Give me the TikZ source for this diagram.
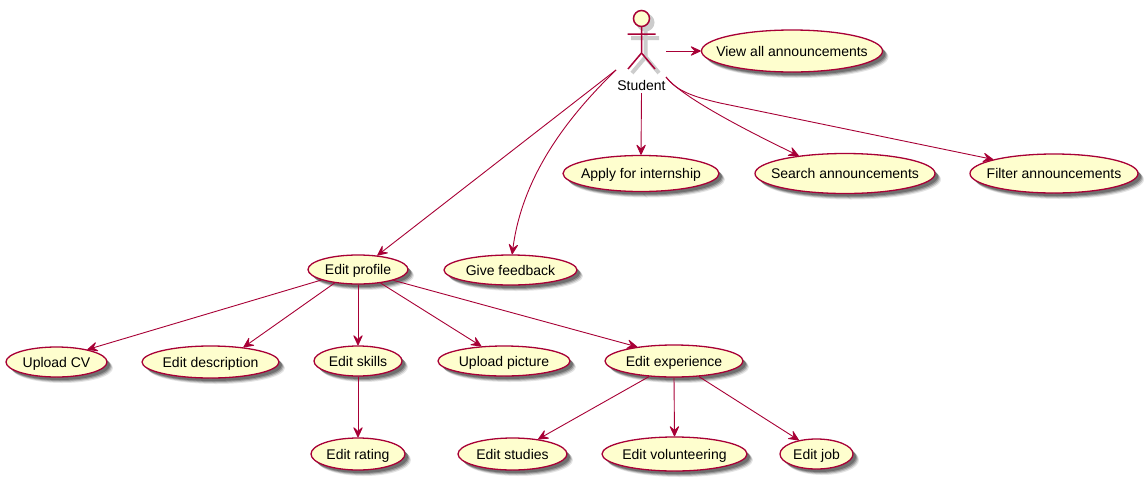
\documentclass[tikz,border=0pt]{standalone}
\usepackage{fontspec}
\setmainfont{Liberation Sans}
\usetikzlibrary{arrows.meta,shapes.geometric,shadows}
\definecolor{umlred}{HTML}{A80036}
\definecolor{umlfill}{HTML}{FEFECE}
\newcommand\uctext[1]{\smash{\makebox[0pt]{\raisebox{-5.4pt}{#1}}}}
\tikzset{
  uc/.style={ellipse,draw=umlred,fill=umlfill,line width=1.3pt,inner sep=0pt,font=\fontsize{14}{16}\selectfont,
    drop shadow={shadow xshift=6pt,shadow yshift=-6pt,fill=black,opacity=0.10},
    drop shadow={shadow xshift=5pt,shadow yshift=-5pt,fill=black,opacity=0.16},
    drop shadow={shadow xshift=4pt,shadow yshift=-4pt,fill=black,opacity=0.22},
    drop shadow={shadow xshift=3pt,shadow yshift=-3pt,fill=black,opacity=0.25}},
  rel/.style={draw=umlred,line width=0.9pt,-{Stealth[length=12pt,width=11pt,inset=5pt,round]}},
  actorline/.style={draw=umlred,line width=1.5pt},
  actorshadow/.style={draw=black!20,line width=4pt},
  txt/.style={inner sep=0pt,font=\fontsize{14}{16}\selectfont}
}
\begin{document}
\begin{tikzpicture}[x=1pt,y=-1pt]
\useasboundingbox[fill=white] (0,0) rectangle (1148,480);
% actor
\fill[black!20] (645.5,22.5) circle (9);
\draw[actorshadow] (645.5,30) -- (645.5,57) (631,38) -- (659,38) (645.5,57) -- (632,73) (645.5,57) -- (659,73);
\draw[actorline,fill=umlfill] (641.5,18.5) circle (8);
\draw[actorline] (641.5,26.5) -- (641.5,53) (627.5,34) -- (655.5,34) (641.5,53) -- (628,69) (641.5,53) -- (655,69);
\node[minimum width=49pt,minimum height=84pt,inner sep=0pt] (student) at (641.5,51) {};
\node[txt] (studentlabel) at (641.5,85) {Student};
\coordinate (stleft) at (616,70);
\coordinate (stright) at (666,77);
% use cases
\node[uc,minimum width=181pt,minimum height=42pt] (view) at (792,51) {\uctext{View all announcements}};
\node[uc,minimum width=156pt,minimum height=36pt] (apply) at (641,173.5) {\uctext{Apply for internship}};
\node[uc,minimum width=180pt,minimum height=40pt] (search) at (845,173.5) {\uctext{Search announcements}};
\node[uc,minimum width=168pt,minimum height=39pt] (filter) at (1054,173.5) {\uctext{Filter announcements}};
\node[uc,minimum width=100pt,minimum height=29pt] (profile) at (358,269.5) {\uctext{Edit profile}};
\node[uc,minimum width=133pt,minimum height=30pt] (feedback) at (510.5,270) {\uctext{Give feedback}};
\node[uc,minimum width=101pt,minimum height=30pt] (cv) at (56.5,362) {\uctext{Upload CV}};
\node[uc,minimum width=137pt,minimum height=32pt] (description) at (210.5,362) {\uctext{Edit description}};
\node[uc,minimum width=88pt,minimum height=30pt] (skills) at (358,361) {\uctext{Edit skills}};
\node[uc,minimum width=132pt,minimum height=30pt] (picture) at (504,361) {\uctext{Upload picture}};
\node[uc,minimum width=138pt,minimum height=32pt] (experience) at (674,361) {\uctext{Edit experience}};
\node[uc,minimum width=94pt,minimum height=32pt] (rating) at (358,454) {\uctext{Edit rating}};
\node[uc,minimum width=109pt,minimum height=32pt] (studies) at (512.5,454) {\uctext{Edit studies}};
\node[uc,minimum width=145pt,minimum height=34pt] (volunteering) at (674.5,454) {\uctext{Edit volunteering}};
\node[uc,minimum width=73pt,minimum height=30pt] (job) at (816.5,454) {\uctext{Edit job}};
% connectors
\draw[rel] (student.east) -- (view.west);
\draw[rel] (student.south) -- (apply.north);
\draw[rel] (stright) .. controls (680,95) and (735,125) .. (search.159);
\draw[rel] (stright) .. controls (676,90) and (690,96) .. (720,103) -- (filter.167);
\draw[rel] (stleft) -- (profile.36);
\draw[rel] (stleft) .. controls (575,110) and (523,170) .. (feedback.84);
\draw[rel] (profile.196.6) -- (cv.22.7);
\draw[rel] (profile.210.4) -- (description.24.8);
\draw[rel] (profile.south) -- (skills.north);
\draw[rel] (profile.329.6) -- (picture.147);
\draw[rel] (profile.343.6) -- (experience.159.4);
\draw[rel] (skills.south) -- (rating.north);
\draw[rel] (experience.212) -- (studies.30.5);
\draw[rel] (experience.south) -- (volunteering.north);
\draw[rel] (experience.328) -- (job.142.9);
\end{tikzpicture}
\end{document}
